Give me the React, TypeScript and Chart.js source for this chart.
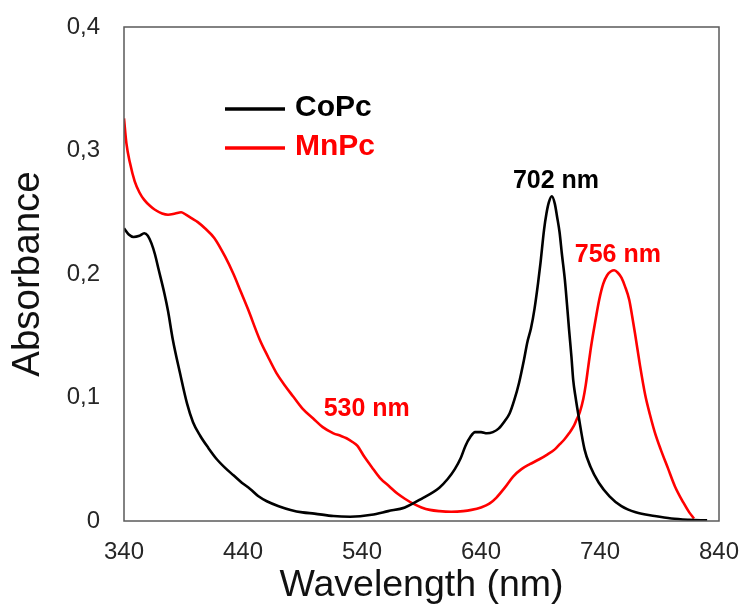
import React, { useEffect, useRef } from "react";
import { Chart, registerables } from "chart.js";

Chart.register(...registerables);

// ---- Data ----
const coPcWavelength = [
  340, 344, 348, 353, 357, 360, 363, 366, 369, 374, 377, 381, 387, 393, 398, 404, 411, 418, 425, 432, 439,
  446, 453, 460, 470, 480, 490, 500, 516, 530, 548, 562, 576, 590, 605, 612, 618, 623, 627, 631, 635,
  640, 645, 650, 655, 660, 664, 668, 672, 676, 679, 682, 685, 688, 690, 693, 695, 697, 699.5, 702,
  704, 706, 708, 710.5, 712.3, 714, 716, 717.5, 719.5, 722, 727, 732, 739, 748, 758, 770, 786, 800, 815, 830,
];
const coPcAbsorbance = [
  0.237, 0.232, 0.230, 0.231, 0.233, 0.231, 0.225, 0.216, 0.204, 0.184, 0.170, 0.147, 0.120, 0.095, 0.080, 0.069, 0.059, 0.050, 0.043, 0.037, 0.031,
  0.026, 0.020, 0.016, 0.012, 0.009, 0.007, 0.006, 0.004, 0.0035, 0.005, 0.008, 0.011, 0.018, 0.027, 0.034, 0.042, 0.051, 0.061, 0.068, 0.072,
  0.072, 0.071, 0.072, 0.075, 0.081, 0.087, 0.098, 0.112, 0.130, 0.145, 0.156, 0.172, 0.193, 0.209, 0.236, 0.249, 0.258, 0.263, 0.257,
  0.246, 0.234, 0.216, 0.195, 0.175, 0.155, 0.133, 0.114, 0.100, 0.085, 0.058, 0.044, 0.031, 0.020, 0.012, 0.007, 0.004, 0.002, 0.001, 0.0005,
];

const mnPcWavelength = [
  340, 342, 345, 349, 353, 357, 362, 366, 372, 377, 383, 388, 392, 397, 402, 408, 416, 425, 432, 438, 444,
  454, 461, 468, 475, 482, 490, 499, 507, 516, 522, 527, 532, 536, 542, 548, 555, 563, 570, 576, 583,
  590, 597, 605, 615, 625, 632, 640, 647, 653, 660, 667, 674, 681, 689, 696, 702, 706, 710, 714, 718,
  720.3, 723, 726, 728, 730, 732, 734.3, 737, 739.3, 742.7, 746, 749, 752, 755, 758, 761, 764.6, 767, 769.4,
  773.6, 778, 782, 786, 791, 797, 803, 810, 815, 819,
];
const mnPcAbsorbance = [
  0.326, 0.306, 0.290, 0.275, 0.266, 0.260, 0.255, 0.252, 0.249, 0.248, 0.249, 0.250, 0.248, 0.245, 0.242, 0.237, 0.229, 0.214, 0.200, 0.186, 0.172,
  0.147, 0.133, 0.120, 0.110, 0.101, 0.091, 0.083, 0.076, 0.071, 0.069, 0.067, 0.064, 0.061, 0.052, 0.044, 0.035, 0.028, 0.022, 0.018, 0.014,
  0.011, 0.009, 0.008, 0.0075, 0.008, 0.009, 0.011, 0.014, 0.019, 0.027, 0.036, 0.042, 0.046, 0.050, 0.054, 0.058, 0.062, 0.066, 0.071, 0.077,
  0.082, 0.088, 0.099, 0.110, 0.124, 0.138, 0.152, 0.167, 0.179, 0.192, 0.199, 0.202, 0.203, 0.201, 0.197, 0.190, 0.179, 0.166, 0.152,
  0.126, 0.102, 0.086, 0.072, 0.058, 0.043, 0.028, 0.015, 0.007, 0.002,
];

const seriesNames = ["CoPc", "MnPc"];
const seriesColors = ["#000000", "#ff0000"];

const xTickValues = [340, 440, 540, 640, 740, 840];
const yTickLabels = ["0", "0,1", "0,2", "0,3", "0,4"];

const peakLabelText = ["702 nm", "756 nm", "530 nm"];
const peakLabelX = [703, 755, 544];
const peakLabelY = [0.27, 0.21, 0.085];
const peakLabelColor = ["#000000", "#ff0000", "#ff0000"];

const FONT = "'Liberation Sans', Arial, sans-serif";

const toPoints = (xs: number[], ys: number[]) => xs.map((x, i) => ({ x, y: ys[i] }));

const zeroScalePadding = (s: any) => {
  s.paddingTop = 0;
  s.paddingBottom = 0;
  s.paddingLeft = 0;
  s.paddingRight = 0;
};

const overlayPlugin = {
  id: "overlay",
  afterDatasetsDraw(chart: any) {
    const { ctx, chartArea, scales } = chart;
    const xs = scales.x;
    const ys = scales.y;
    ctx.save();
    // plot frame
    ctx.strokeStyle = "#5a5a5a";
    ctx.lineWidth = 1.5;
    ctx.strokeRect(chartArea.left, chartArea.top, chartArea.right - chartArea.left, chartArea.bottom - chartArea.top);

    // legend
    const lx0 = chartArea.left + 101;
    const lx1 = chartArea.left + 161;
    const ly = [chartArea.top + 82, chartArea.top + 121];
    ctx.font = `bold 30px ${FONT}`;
    ctx.textAlign = "left";
    ctx.textBaseline = "middle";
    seriesNames.forEach((name, i) => {
      ctx.strokeStyle = seriesColors[i];
      ctx.lineWidth = 3.5;
      ctx.beginPath();
      ctx.moveTo(lx0, ly[i]);
      ctx.lineTo(lx1, ly[i]);
      ctx.stroke();
      ctx.fillStyle = seriesColors[i];
      ctx.fillText(name, lx1 + 10, ly[i] - 1);
    });

    // peak labels
    ctx.font = `bold 25px ${FONT}`;
    ctx.textAlign = "center";
    ctx.textBaseline = "alphabetic";
    peakLabelText.forEach((t, i) => {
      ctx.fillStyle = peakLabelColor[i];
      ctx.fillText(t, xs.getPixelForValue(peakLabelX[i]), ys.getPixelForValue(peakLabelY[i]));
    });
    ctx.restore();
  },
};

export default function App() {
  const ref = useRef<HTMLCanvasElement | null>(null);

  useEffect(() => {
    document.body.style.margin = "0";
    if (!ref.current) return;
    const chart = new Chart(ref.current, {
      type: "line",
      data: {
        datasets: [
          {
            label: seriesNames[0],
            data: toPoints(coPcWavelength, coPcAbsorbance),
            borderColor: seriesColors[0],
            borderWidth: 2.6,
            pointRadius: 0,
            cubicInterpolationMode: "monotone",
            fill: false,
          },
          {
            label: seriesNames[1],
            data: toPoints(mnPcWavelength, mnPcAbsorbance),
            borderColor: seriesColors[1],
            borderWidth: 2.6,
            pointRadius: 0,
            cubicInterpolationMode: "monotone",
            fill: false,
          },
        ],
      },
      options: {
        animation: false,
        responsive: false,
        devicePixelRatio: 1,
        layout: { padding: { left: 0, right: 26, top: 27, bottom: 0 } },
        plugins: {
          legend: { display: false },
          tooltip: { enabled: false },
        },
        scales: {
          x: {
            type: "linear",
            min: 340,
            max: 840,
            afterFit: (s: any) => {
              s.height = 91;
              zeroScalePadding(s);
            },
            afterBuildTicks: (s: any) => {
              s.ticks = xTickValues.map((v) => ({ value: v }));
            },
            grid: { display: false, drawTicks: false },
            border: { display: false },
            ticks: {
              padding: 17,
              color: "#262626",
              font: { family: FONT, size: 24 },
              maxRotation: 0,
              autoSkip: false,
              callback: (v: any) => String(v),
            },
            title: {
              display: true,
              text: "Wavelength (nm)",
              color: "#111111",
              font: { family: FONT, size: 37.5 },
              padding: { top: 0, bottom: 4 },
            },
          },
          y: {
            type: "linear",
            min: 0,
            max: 0.4,
            afterFit: (s: any) => {
              s.width = 124;
              zeroScalePadding(s);
            },
            afterBuildTicks: (s: any) => {
              s.ticks = yTickLabels.map((_, i) => ({ value: i / 10 }));
            },
            grid: { display: false, drawTicks: false },
            border: { display: false },
            ticks: {
              padding: 24,
              color: "#262626",
              font: { family: FONT, size: 24 },
              autoSkip: false,
              callback: (_v: any, i: number) => yTickLabels[i],
            },
            title: {
              display: true,
              text: "Absorbance",
              color: "#111111",
              font: { family: FONT, size: 38.5 },
              padding: { top: 5, bottom: 0 },
            },
          },
        },
      },
      plugins: [overlayPlugin],
    } as any);
    return () => chart.destroy();
  }, []);

  return (
    <div style={{ width: 745, height: 612, background: "#ffffff" }}>
      <canvas ref={ref} width={745} height={612} style={{ display: "block" }} />
    </div>
  );
}
